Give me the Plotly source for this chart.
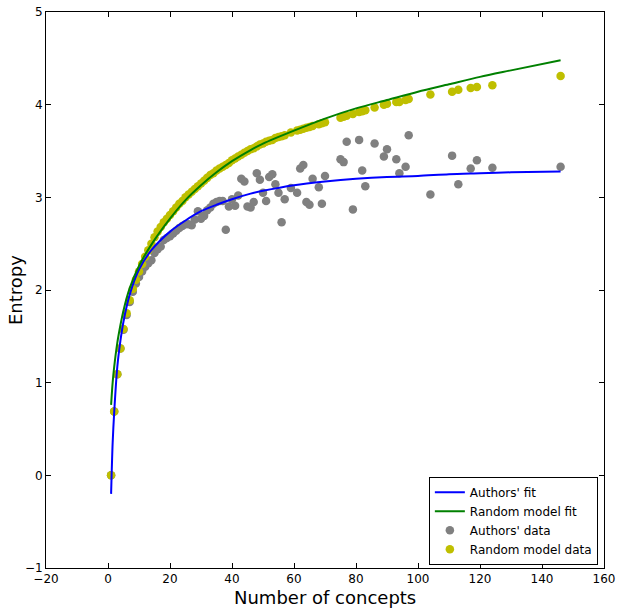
import plotly.graph_objects as go

# ---- data ----
concepts = [1, 2, 3, 4, 5, 6, 7, 8, 9, 10, 11, 12, 13, 14, 15, 16, 17, 18, 19, 20,
            21, 22, 23, 24, 25, 26, 27, 28, 29, 30, 31, 32, 33, 34, 35, 36, 37, 38, 39, 40,
            41, 42, 43, 44, 45, 46, 47, 48, 49, 50, 51, 52, 53, 54, 55, 56, 57, 59, 61, 62,
            63, 64, 65, 66, 68, 69, 70, 75, 76, 77, 79, 81, 82, 83, 86, 89, 90, 93, 94, 96,
            97, 104, 111, 113, 117, 119, 124, 146]

authors_entropy = [0.00, 0.69, 1.09, 1.37, 1.57, 1.73, 1.87, 1.98, 2.07, 2.14,
                   2.20, 2.25, 2.29, 2.32, 2.40, 2.44, 2.47, 2.54, 2.56, 2.58,
                   2.61, 2.64, 2.67, 2.69, 2.71, 2.71, 2.70, 2.76, 2.85, 2.77,
                   2.80, 2.86, 2.89, 2.93, 2.95, 2.96, 2.96, 2.65, 2.90, 2.98,
                   2.91, 3.02, 3.20, 3.17, 2.90, 2.89, 2.95, 3.26, 3.19, 3.05,
                   2.96, 3.22, 3.25, 3.14, 3.05, 2.73, 2.98, 3.10, 3.05, 3.31,
                   3.35, 2.95, 2.92, 3.20, 3.11, 2.93, 3.23, 3.41, 3.38, 3.60,
                   2.87, 3.62, 3.29, 3.12, 3.58, 3.44, 3.52, 3.41, 3.26, 3.33,
                   3.67, 3.03, 3.45, 3.14, 3.31, 3.40, 3.32, 3.33]

random_entropy = [0.00, 0.69, 1.09, 1.37, 1.58, 1.75, 1.89, 2.01, 2.11, 2.20,
                  2.28, 2.36, 2.43, 2.50, 2.57, 2.63, 2.68, 2.73, 2.77, 2.81,
                  2.85, 2.89, 2.93, 2.96, 3.00, 3.03, 3.06, 3.09, 3.12, 3.15,
                  3.18, 3.21, 3.24, 3.26, 3.29, 3.31, 3.33, 3.35, 3.37, 3.40,
                  3.42, 3.44, 3.46, 3.48, 3.50, 3.52, 3.53, 3.55, 3.57, 3.58,
                  3.60, 3.61, 3.62, 3.64, 3.65, 3.66, 3.67, 3.70, 3.72, 3.73,
                  3.74, 3.75, 3.76, 3.77, 3.79, 3.80, 3.81, 3.86, 3.87, 3.88,
                  3.90, 3.92, 3.93, 3.94, 3.97, 4.00, 4.01, 4.03, 4.03, 4.05,
                  4.06, 4.11, 4.14, 4.16, 4.18, 4.19, 4.21, 4.31]

fit_x = [1, 1.5, 2, 3, 4, 5, 7, 10, 14, 20, 25, 30, 35, 40, 46, 50, 60, 70, 80,
         90, 100, 110, 120, 130, 146]
authors_fit = [-0.20, 0.35, 0.68, 1.17, 1.45, 1.66, 1.95, 2.22, 2.43, 2.63, 2.75,
               2.85, 2.92, 2.98, 3.04, 3.07, 3.13, 3.17, 3.20, 3.22, 3.23, 3.25,
               3.26, 3.27, 3.28]
random_fit = [0.76, 1.00, 1.17, 1.43, 1.62, 1.78, 2.02, 2.26, 2.49, 2.77, 2.97,
              3.13, 3.27, 3.39, 3.51, 3.58, 3.72, 3.85, 3.96, 4.05, 4.14, 4.22,
              4.30, 4.37, 4.48]

x_ticks = [-20, 0, 20, 40, 60, 80, 100, 120, 140, 160]
y_ticks = [-1, 0, 1, 2, 3, 4, 5]
x_title = "Number of concepts"
y_title = "Entropy"

FONT = "DejaVu Sans, Liberation Sans, sans-serif"

fig = go.Figure()

fig.add_trace(go.Scatter(
    x=concepts, y=authors_entropy, mode="markers", name="Authors' data",
    marker=dict(color="#808080", size=8.5, line=dict(width=0)), legendrank=3))
fig.add_trace(go.Scatter(
    x=concepts, y=random_entropy, mode="markers", name="Random model data",
    marker=dict(color="#BFBF00", size=8.5, line=dict(width=0)), legendrank=4))
fig.add_trace(go.Scatter(
    x=fit_x, y=authors_fit, mode="lines", name="Authors' fit",
    line=dict(color="#0000FF", width=2, shape="spline", smoothing=0.8), legendrank=1))
fig.add_trace(go.Scatter(
    x=fit_x, y=random_fit, mode="lines", name="Random model fit",
    line=dict(color="#008000", width=2, shape="spline", smoothing=0.8), legendrank=2))

axis_common = dict(
    showgrid=False, zeroline=False, showline=True, linecolor="black", linewidth=1,
    mirror="allticks", ticks="inside", ticklen=5, tickwidth=1, tickcolor="black",
    tickfont=dict(family=FONT, size=12, color="black"), automargin=False,
)

fig.update_xaxes(range=[-20, 160], tickvals=x_ticks, **axis_common)
fig.update_yaxes(range=[-1, 5], tickvals=y_ticks, **axis_common)

fig.add_annotation(text=x_title, xref="paper", yref="paper", x=0.5, y=0,
                   xanchor="center", yanchor="middle", yshift=-29, showarrow=False,
                   font=dict(family=FONT, size=18, color="black"))
fig.add_annotation(text=y_title, xref="paper", yref="paper", x=0, y=0.5,
                   xanchor="center", yanchor="middle", xshift=-31, textangle=-90,
                   showarrow=False, font=dict(family=FONT, size=18, color="black"))

fig.update_layout(
    width=620, height=614,
    margin=dict(l=46, r=16, t=12, b=46),
    paper_bgcolor="white", plot_bgcolor="white",
    font=dict(family=FONT, color="black"),
    showlegend=True,
    legend=dict(
        x=0.989, y=0.006, xanchor="right", yanchor="bottom",
        bgcolor="white", bordercolor="black", borderwidth=1,
        font=dict(family=FONT, size=12, color="black"),
        traceorder="normal", itemwidth=30, tracegroupgap=0,
    ),
)

fig.write_html("out.html", config={"displayModeBar": False},
               post_script="document.body.style.margin='0';")
